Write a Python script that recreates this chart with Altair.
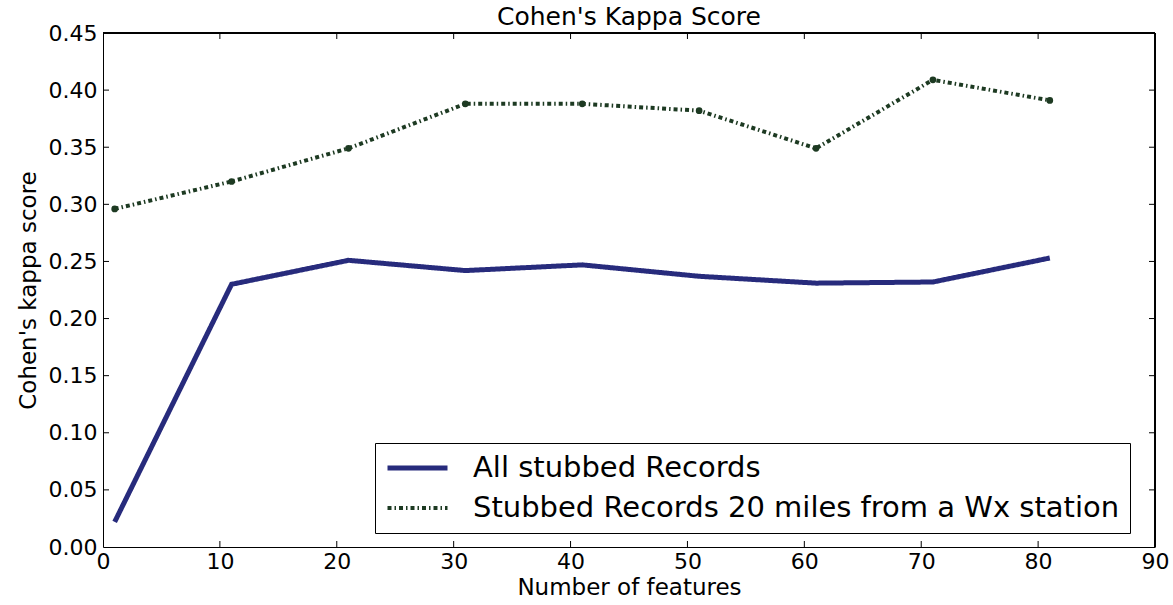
import altair as alt
import pandas as pd

features = [1, 11, 21, 31, 41, 51, 61, 71, 81]
all_stubbed = [0.022, 0.230, 0.251, 0.242, 0.247, 0.237, 0.231, 0.232, 0.253]
stubbed_20mi = [0.296, 0.320, 0.349, 0.388, 0.388, 0.382, 0.349, 0.409, 0.391]
series_names = ["All stubbed Records", "Stubbed Records 20 miles from a Wx station"]
x_ticks = [0, 10, 20, 30, 40, 50, 60, 70, 80, 90]
y_ticks = [0.0, 0.05, 0.10, 0.15, 0.20, 0.25, 0.30, 0.35, 0.40, 0.45]

BLUE = "#272b7c"
GREEN = "#1d3a22"
W, H = 1052, 514
FONT = "DejaVu Sans"

df = pd.DataFrame({
    "features": features * 2,
    "kappa": all_stubbed + stubbed_20mi,
    "series": [series_names[0]] * len(features) + [series_names[1]] * len(features),
})

xscale = alt.Scale(domain=[0, 90], nice=False, zero=False)
yscale = alt.Scale(domain=[0, 0.45], nice=False)

xaxis = alt.Axis(values=x_ticks, title="Number of features", format="d",
                 labelFontSize=22, titleFontSize=23, titleFontWeight="normal",
                 labelColor="black", titleColor="black", labelPadding=4, titlePadding=4,
                 ticks=False, domain=True, domainColor="black", domainWidth=1,
                 grid=False, labelFont=FONT, titleFont=FONT, labelFlush=False)
yaxis = alt.Axis(values=y_ticks, title="Cohen's kappa score", format=".2f",
                 labelFontSize=22, titleFontSize=23, titleFontWeight="normal",
                 labelColor="black", titleColor="black", labelPadding=6, titlePadding=8,
                 ticks=False, domain=True, domainColor="black", domainWidth=1,
                 grid=False, labelFont=FONT, titleFont=FONT, labelFlush=False)

legend = alt.Legend(
    title=None, orient="none", legendX=272, legendY=410,
    symbolType="stroke", symbolSize=3600, symbolStrokeWidth=5,
    labelFontSize=29, labelFont=FONT, labelColor="black", labelOffset=23,
    strokeColor="black", fillColor="white", padding=10, cornerRadius=0,
    rowPadding=10, clipHeight=30, labelLimit=900,
)

color = alt.Color("series:N", scale=alt.Scale(domain=series_names, range=[BLUE, GREEN]), legend=legend)
dash = alt.StrokeDash("series:N", scale=alt.Scale(domain=series_names, range=[[1, 0], [4, 3, 1.5, 3]]), legend=legend)
swidth = alt.StrokeWidth("series:N", scale=alt.Scale(domain=series_names, range=[5, 4]), legend=None)

lines = alt.Chart(df).mark_line().encode(
    x=alt.X("features:Q", scale=xscale, axis=xaxis),
    y=alt.Y("kappa:Q", scale=yscale, axis=yaxis),
    color=color, strokeDash=dash, strokeWidth=swidth,
)

points = alt.Chart(df).transform_filter(
    alt.datum.series == series_names[1]
).mark_circle(size=45, color=GREEN, opacity=1).encode(
    x=alt.X("features:Q", scale=xscale),
    y=alt.Y("kappa:Q", scale=yscale),
)

xt = pd.DataFrame({"features": x_ticks[1:-1]})
yt = pd.DataFrame({"kappa": y_ticks[1:-1]})
tick_style = dict(color="black", strokeWidth=1)
bottom_ticks = alt.Chart(xt).mark_rule(**tick_style).encode(
    x=alt.X("features:Q", scale=xscale), y=alt.value(H - 6), y2=alt.value(H))
top_ticks = alt.Chart(xt).mark_rule(**tick_style).encode(
    x=alt.X("features:Q", scale=xscale), y=alt.value(0), y2=alt.value(6))
left_ticks = alt.Chart(yt).mark_rule(**tick_style).encode(
    y=alt.Y("kappa:Q", scale=yscale), x=alt.value(0), x2=alt.value(6))
right_ticks = alt.Chart(yt).mark_rule(**tick_style).encode(
    y=alt.Y("kappa:Q", scale=yscale), x=alt.value(W - 6), x2=alt.value(W))
top_edge = alt.Chart(xt).mark_rule(color="black", strokeWidth=1).encode(
    x=alt.value(0), x2=alt.value(W), y=alt.value(0))
right_edge = alt.Chart(xt).mark_rule(color="black", strokeWidth=1).encode(
    x=alt.value(W), y=alt.value(0), y2=alt.value(H))

chart = alt.layer(
    bottom_ticks, top_ticks, left_ticks, right_ticks, top_edge, right_edge, lines, points
).properties(
    width=W, height=H,
    title=alt.TitleParams("Cohen's Kappa Score", fontSize=25, fontWeight="normal",
                          font=FONT, color="black", offset=0, dy=8),
    autosize="none",
    padding={"left": 103, "top": 33, "right": 18, "bottom": 58},
).configure_view(stroke=None).configure(background="white")

chart.save("out.html", embed_options={"renderer": "svg", "actions": False})
